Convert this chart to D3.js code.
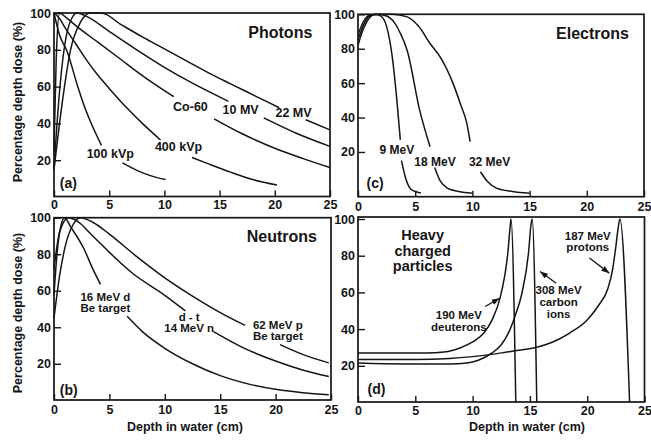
<!DOCTYPE html>
<html><head><meta charset="utf-8">
<script src="https://cdn.jsdelivr.net/npm/d3@7"></script>
<style>
body{margin:0;background:#fff}
text{font-family:"Liberation Sans",Arial,Helvetica,sans-serif;font-weight:bold;fill:#151515}
</style>
</head><body>
<svg id="chart" width="651" height="441"></svg>
<script>
// ---------- tick labels ----------
const depthTicks = [0, 5, 10, 15, 20, 25];
const doseTicks = [20, 40, 60, 80, 100];

// ---------- (a) Photons : [depth cm, % dose], split where labels interrupt ----------
const photon100kVp = [
  [[0,100],[0.5,88],[1.2,79],[2.1,61],[2.65,51],[3.3,41],[4.3,28]],
  [[6.2,18.5],[7.5,14.5],[8.8,11.5],[10.1,9.5]]
];
const photon400kVp = [
  [[0,100],[0.5,97],[1,92],[2,83],[3,74],[4,66],[5,59],[6.5,49],[8,40],[9.65,31]],
  [[12.5,21.5],[14,18],[16,13.5],[18,9.5],[20.2,6.5]]
];
const photonCo60 = [
  [[0,25],[0.2,75],[0.5,100],[1,98],[2,93],[4,84],[6,75],[8,66],[10.85,54.5]],
  [[14.5,42.5],[17,34.5],[20,26.5],[22.5,21],[25,16]]
];
const photon10MV = [
  [[0,15],[0.4,50],[0.8,75],[1.2,90],[1.6,97],[2.1,100],[3,98],[5,90],[7.5,80],[10,70.5],[12.5,62],[15.8,52]],
  [[19,43],[22,34.5],[25,27.5]]
];
const photon22MV = [
  [[0,15],[0.5,40],[0.9,58],[1.5,80],[2.4,95],[3.3,100],[4.3,100],[6,94],[8,87],[10,80.5],[12,74],[14,67.5],[16,61.5],[18.2,55],[20.4,48.5]],
  [[22.8,42],[25,36.5]]
];
const photonLabels = ["100 kVp", "400 kVp", "Co-60", "10 MV", "22 MV"];

// ---------- (b) Neutrons ----------
const neutron16MeVd = [
  [[0,58],[0.3,82],[0.6,95],[0.95,100],[1.5,95],[2.7,83],[3.5,72],[4.2,63.5]],
  [[6.6,46],[8,37.5],[10,28.5],[12.5,20],[15,13.5],[17.5,9],[20,6],[22.5,4.2],[24.8,3]]
];
const neutronDT = [
  [[0,72],[0.5,92],[1.3,100],[2,98.5],[3.5,90],[5,81],[7,70],[10,57.5],[11.85,49]],
  [[14.4,37.6],[17,29],[20,21.5],[22.5,16.5],[24.8,13]]
];
const neutron62MeVp = [
  [[0,45],[0.5,68],[1,84],[1.7,96],[2.4,100],[3.5,97.5],[5,91],[7.5,78.5],[10,67],[12.5,57],[15,48],[17.25,41]],
  [[20.4,30.5],[22.5,25],[24.8,20.5]]
];
const neutronLabels = [["16 MeV  d", "Be target"], ["d  -  t", "14 MeV   n"], ["62 MeV  p", "Be target"]];

// ---------- (c) Electrons ----------
const electron9MeV = [
  [[0,82],[0.5,92],[1,98],[1.5,100],[2,99],[2.5,93],[3,75],[3.4,50],[3.7,27]],
  [[3.8,15],[4.2,4],[4.6,-1.5],[5,-3],[5.5,-3.8]]
];
const electron18MeV = [
  [[0,85],[0.5,94],[1,99],[1.7,100],[2.5,99],[3.2,95],[3.7,89],[4.3,79],[5.4,44],[6.3,23]],
  [[6.7,11],[7.2,3],[7.8,-1],[8.8,-3],[10,-4]]
];
const electron32MeV = [
  [[0,88],[0.5,96],[1,99.5],[2,100],[3,100],[4.3,98.5],[5.3,93],[6.3,83],[7.3,74],[8.3,60],[9,47],[9.5,37],[9.8,26]],
  [[10.7,8.5],[11.3,3],[12.1,-1],[13.5,-3],[15,-4]]
];
const electronLabels = ["9 MeV", "18 MeV", "32 MeV"];

// ---------- (d) Heavy charged particles ----------
const deuteron190MeV = [
  [[0,27],[3,27],[6,27],[7.5,27.5],[9,30],[10,33],[11,38],[11.7,45],[12.4,57],[12.8,69],[13.05,80],[13.25,94],[13.35,100],[13.77,0]]
];
const carbon308MeV = [
  [[0,21.5],[4,21],[8,21],[9.5,21.5],[10.5,23],[11.7,27],[12.5,31.5],[13.1,37.5],[13.7,47],[14.3,59.5],[14.87,81],[15.1,97],[15.2,100],[15.6,0]]
];
const proton187MeV = [
  [[0,23.5],[5,23.5],[8,24],[10,25],[12,26.5],[14,28.5],[15.5,30],[17,33],[18.5,38],[20,45],[21,53],[21.8,62],[22.2,72],[22.5,85],[22.7,95],[22.85,100],[23.7,0]]
];
const heavyTitle = ["Heavy", "charged", "particles"];
const heavyLabels = [["190 MeV", "deuterons"], ["308 MeV", "carbon", "ions"], ["187 MeV", "protons"]];

const panelTitles = ["Photons", "Neutrons", "Electrons"];
const panelLetters = ["(a)", "(b)", "(c)", "(d)"];
const yTitle = "Percentage depth dose  (%)";
const xTitle = "Depth in water  (cm)";

// ---------- drawing ----------
const svg = d3.select("#chart");
const INK = "#151515";
svg.append("defs").append("marker")
  .attr("id", "arr").attr("viewBox", "0 0 8 6").attr("refX", 8).attr("refY", 3)
  .attr("markerWidth", 8).attr("markerHeight", 6).attr("markerUnits", "userSpaceOnUse")
  .attr("orient", "auto")
  .append("path").attr("d", "M0,0L8,3L0,6Z").attr("fill", INK);

function makePanel(cfg) {
  const x = d3.scaleLinear().domain([0, 25]).range([cfg.l, cfg.r]);
  const y = d3.scaleLinear().domain(cfg.yDom).range(cfg.yRange);
  const g = svg.append("g");

  const xa = d3.axisBottom(x).tickValues(depthTicks).tickSizeInner(-6).tickSizeOuter(0).tickPadding(cfg.xPad);
  const gx = g.append("g").attr("transform", `translate(0,${cfg.b})`).call(xa);
  const ya = d3.axisLeft(y).tickValues(doseTicks).tickSizeInner(-7).tickSizeOuter(0).tickPadding(3);
  const gy = g.append("g").attr("transform", `translate(${cfg.l},0)`).call(ya);
  [gx, gy].forEach(a => {
    a.select(".domain").remove();
    a.selectAll("line").attr("stroke", INK).attr("stroke-width", 1.4);
    a.selectAll("text").attr("font-size", 12.5).attr("fill", INK)
      .style("font-family", '"Liberation Sans",Arial,sans-serif').style("font-weight", "bold");
  });

  g.append("rect").attr("x", cfg.l).attr("y", cfg.t)
    .attr("width", cfg.r - cfg.l).attr("height", cfg.b - cfg.t)
    .attr("fill", "none").attr("stroke", INK).attr("stroke-width", 1.7);

  const line = d3.line().x(d => x(d[0])).y(d => y(d[1])).curve(d3.curveMonotoneX);
  cfg.series.forEach(s => s.forEach(seg =>
    g.append("path").attr("d", line(seg)).attr("fill", "none")
      .attr("stroke", INK).attr("stroke-width", 1.5).attr("stroke-linejoin", "round")));

  return { x, y, g };
}

// single- or multi-line label; (dx, dy) is the data position of the first line's centre
function label(p, lines, dx, dy, size, lh) {
  const arr = Array.isArray(lines) ? lines : [lines];
  const t = p.g.append("text").attr("x", p.x(dx)).attr("y", p.y(dy))
    .attr("font-size", size).attr("text-anchor", "middle").attr("dominant-baseline", "central");
  arr.forEach((s, i) => t.append("tspan").attr("x", p.x(dx))
    .attr("dy", i === 0 ? 0 : lh).attr("dominant-baseline", "central").text(s));
}
function arrow(p, x1, y1, x2, y2) {
  p.g.append("line").attr("x1", p.x(x1)).attr("y1", p.y(y1)).attr("x2", p.x(x2)).attr("y2", p.y(y2))
    .attr("stroke", INK).attr("stroke-width", 1.3).attr("marker-end", "url(#arr)");
}

// (a)
const pa = makePanel({ l: 54, r: 330, t: 13, b: 196.5, yDom: [0, 100], yRange: [197, 13], xPad: 4,
  series: [photon100kVp, photon400kVp, photonCo60, photon10MV, photon22MV] });
label(pa, panelTitles[0], 20.5, 89.7, 16);
label(pa, photonLabels[0], 5.1, 23.4, 12.5);
label(pa, photonLabels[1], 11.28, 27.2, 12.5);
label(pa, photonLabels[2], 12.36, 48.9, 12.5);
label(pa, photonLabels[3], 16.9, 47.3, 12.5);
label(pa, photonLabels[4], 21.7, 45.6, 12.5);
label(pa, panelLetters[0], 1.3, 7.6, 14);

// (c)
const pc = makePanel({ l: 358, r: 644, t: 14.3, b: 196.7, yDom: [-6, 100], yRange: [196.7, 14.3], xPad: 5,
  series: [electron9MeV, electron18MeV, electron32MeV] });
label(pc, panelTitles[2], 20.5, 89.1, 16);
label(pc, electronLabels[0], 3.4, 21.2, 12);
label(pc, electronLabels[1], 6.73, 14.2, 12);
label(pc, electronLabels[2], 11.5, 14.2, 12);
label(pc, panelLetters[2], 1.49, 2, 14);

// (b)
const pb = makePanel({ l: 54, r: 331, t: 217.7, b: 400, yDom: [0, 100], yRange: [400.3, 217.7], xPad: 5,
  series: [neutron16MeVd, neutronDT, neutron62MeVp] });
label(pb, panelTitles[1], 20.56, 89.9, 16);
label(pb, neutronLabels[0], 4.64, 56.4, 11.5, 10.5);
label(pb, neutronLabels[1], 12.2, 45.8, 11.5, 11.5);
label(pb, neutronLabels[2], 20.2, 41.2, 11.5, 11);
label(pb, panelLetters[1], 1.33, 5.6, 14);

// (d)
const pd = makePanel({ l: 358, r: 644.5, t: 217, b: 402, yDom: [0, 100], yRange: [402.5, 219], xPad: 4,
  series: [deuteron190MeV, carbon308MeV, proton187MeV] });
label(pd, heavyTitle, 5.64, 91.2, 14.5, 15.5);
label(pd, heavyLabels[0], 8.8, 47.7, 11.5, 11.7);
label(pd, heavyLabels[1], 17.5, 61.4, 11.5, 12);
label(pd, heavyLabels[2], 20.05, 90.5, 11.5, 11);
label(pd, panelLetters[3], 1.62, 7.2, 14);
arrow(pd, 11.1, 52.3, 12.36, 56.8);
arrow(pd, 17.3, 65, 15.88, 71.4);
arrow(pd, 20.2, 78.7, 21.93, 70.5);

// axis titles
[[102], [313]].forEach(([cy]) => {
  svg.append("text").attr("transform", `translate(18,${cy}) rotate(-90)`)
    .attr("text-anchor", "middle").attr("dominant-baseline", "central")
    .attr("font-size", 12.5).text(yTitle);
});
svg.append("text").attr("x", 185).attr("y", 427).attr("text-anchor", "middle")
  .attr("dominant-baseline", "central").attr("font-size", 12.5).text(xTitle);
svg.append("text").attr("x", 527).attr("y", 427).attr("text-anchor", "middle")
  .attr("dominant-baseline", "central").attr("font-size", 12.5).text(xTitle);
</script>
</body></html>
